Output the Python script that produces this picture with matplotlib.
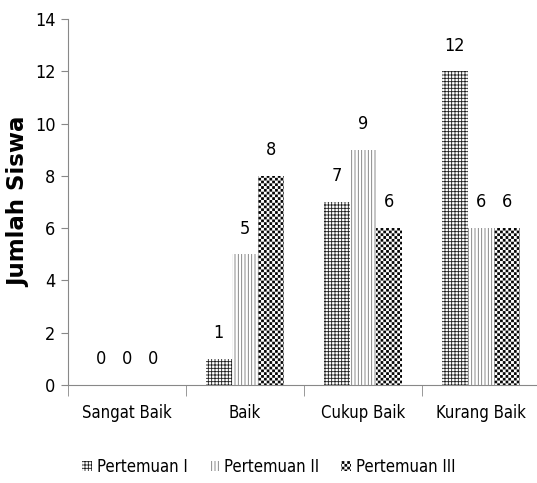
import warnings
import matplotlib
matplotlib.use("Agg")
import matplotlib.pyplot as plt
from matplotlib import hatch as mhatch
from matplotlib.path import Path
import numpy as np

categories = ["Sangat Baik", "Baik", "Cukup Baik", "Kurang Baik"]
series_names = ["Pertemuan I", "Pertemuan II", "Pertemuan III"]
pertemuan_1 = [0, 1, 7, 12]
pertemuan_2 = [0, 5, 9, 6]
pertemuan_3 = [0, 8, 6, 6]
y_ticks = [0, 2, 4, 6, 8, 10, 12, 14]


class CheckerHatch(mhatch.HatchPatternBase):
    """Filled checkerboard hatch, selected with the character 'c'."""
    filled = True

    def __init__(self, hatch, density):
        n = hatch.count("c")
        self.cells = 2 * n * density if n else 0
        self.num_vertices = (self.cells * self.cells // 2) * 5

    def set_vertices_and_codes(self, vertices, codes):
        n = self.cells
        s = 1.0 / n
        d = 0.17 * s  # inset so the stroked outline keeps the squares even
        k = 0
        for i in range(n):
            for j in range(n):
                if (i + j) % 2 == 0:
                    x0, y0 = i * s + d, j * s + d
                    x1, y1 = (i + 1) * s - d, (j + 1) * s - d
                    vertices[k:k + 5] = [(x0, y0), (x1, y0), (x1, y1),
                                         (x0, y1), (x0, y0)]
                    codes[k:k + 5] = [Path.MOVETO, Path.LINETO, Path.LINETO,
                                      Path.LINETO, Path.CLOSEPOLY]
                    k += 5


mhatch._hatch_types.append(CheckerHatch)
warnings.filterwarnings("ignore")

plt.rcParams["font.family"] = "DejaVu Sans"
plt.rcParams["font.stretch"] = "condensed"
plt.rcParams["hatch.linewidth"] = 0.6

fig = plt.figure(figsize=(5.37, 4.83), dpi=100)
ax = fig.add_axes([0.1266, 0.2029, 0.879, 0.7578])

x = np.arange(len(categories))
w = 0.223
styles = [
    dict(hatch="+++++", edgecolor="#1e1e1e"),
    dict(hatch="|||||", edgecolor="#777777"),
    dict(hatch="ccc", edgecolor="#000000"),
]
data = [pertemuan_1, pertemuan_2, pertemuan_3]
for i, (vals, name, st) in enumerate(zip(data, series_names, styles)):
    bars = ax.bar(x + (i - 1) * w, vals, width=w, facecolor="white",
                  linewidth=0, label=name, **st)
    ax.bar_label(bars, labels=[str(v) for v in vals], padding=12,
                 fontsize=13)

ax.set_xlim(-0.5, 3.5)
ax.set_ylim(0, 14)
ax.set_yticks(y_ticks)
ax.tick_params(axis="y", labelsize=13, length=5, color="#888888", pad=4)
ax.set_xticks(x)
ax.set_xticklabels(categories)
ax.tick_params(axis="x", which="major", length=0, labelsize=12, pad=14)
ax.set_xticks(np.arange(-0.5, 4.0, 1.0), minor=True)
ax.tick_params(axis="x", which="minor", length=8, color="#888888")
for s in ["top", "right"]:
    ax.spines[s].set_visible(False)
for s in ["left", "bottom"]:
    ax.spines[s].set_color("#888888")

ax.set_ylabel("Jumlah Siswa", fontsize=16.5, fontweight="bold",
              fontstretch="normal")
ax.yaxis.set_label_coords(-0.08, 0.5)

fig.legend(loc="center", bbox_to_anchor=(0.50, 0.033), ncol=3,
           frameon=False, fontsize=12, handlelength=0.6, handleheight=0.6,
           handletextpad=0.3, columnspacing=1.3)

fig.savefig("out.png", dpi=100)
